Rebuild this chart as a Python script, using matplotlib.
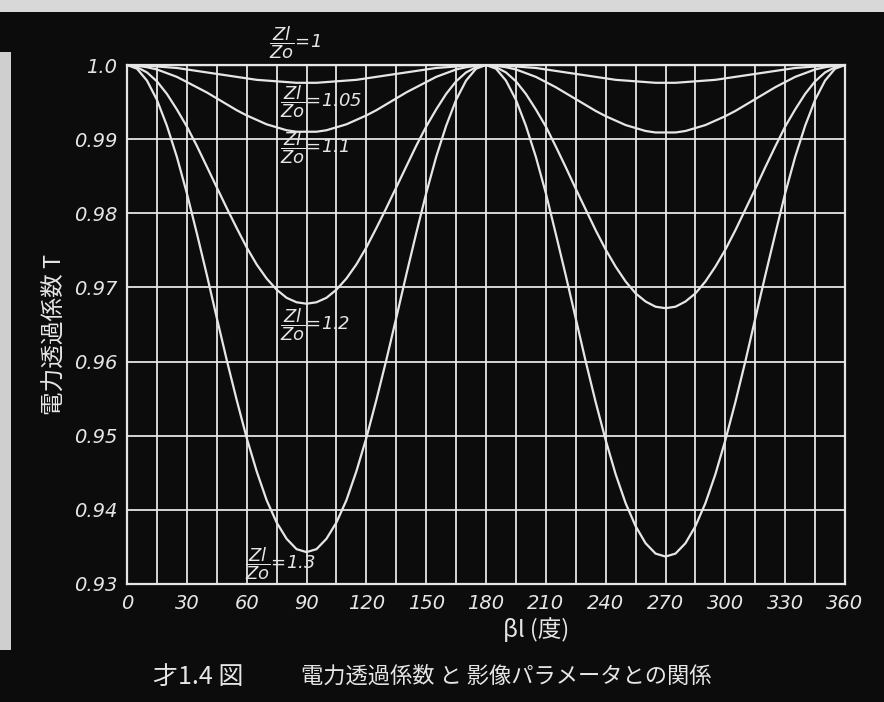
import numpy as np
import matplotlib
matplotlib.use('Agg')
import matplotlib.pyplot as plt
from matplotlib.patches import Rectangle

plt.rcParams['font.family'] = ['DejaVu Sans', 'Noto Sans CJK JP']
plt.rcParams['mathtext.fontset'] = 'dejavusans'

# beta*l in degrees, 5 degree steps
beta = list(range(0, 361, 5))

# power transmission coefficient T for each Zl/Zo
t_105 = [1.0, 1.0, 0.9999, 0.9998, 0.9997, 0.9996, 0.9994, 0.9992, 0.9990, 0.9988,
         0.9986, 0.9984, 0.9982, 0.9980, 0.9979, 0.9978, 0.9977, 0.9976, 0.9976,
         0.9976, 0.9977, 0.9978, 0.9979, 0.9980, 0.9982, 0.9984, 0.9986, 0.9988,
         0.9990, 0.9992, 0.9994, 0.9996, 0.9997, 0.9998, 0.9999, 1.0, 1.0,
         1.0, 0.9999, 0.9998, 0.9997, 0.9996, 0.9994, 0.9992, 0.9990, 0.9988,
         0.9986, 0.9984, 0.9982, 0.9980, 0.9979, 0.9978, 0.9977, 0.9976, 0.9976,
         0.9976, 0.9977, 0.9978, 0.9979, 0.9980, 0.9982, 0.9984, 0.9986, 0.9988,
         0.9990, 0.9992, 0.9994, 0.9996, 0.9997, 0.9998, 0.9999, 1.0, 1.0]
t_11 = [1.0, 0.9999, 0.9997, 0.9994, 0.9989, 0.9984, 0.9977, 0.9970, 0.9963, 0.9955,
        0.9947, 0.9939, 0.9932, 0.9926, 0.9920, 0.9916, 0.9912, 0.9910, 0.9910,
        0.9910, 0.9912, 0.9916, 0.9920, 0.9926, 0.9932, 0.9939, 0.9947, 0.9955,
        0.9963, 0.9970, 0.9977, 0.9984, 0.9989, 0.9994, 0.9997, 0.9999, 1.0,
        0.9999, 0.9997, 0.9994, 0.9989, 0.9984, 0.9977, 0.9970, 0.9962, 0.9954,
        0.9946, 0.9938, 0.9931, 0.9925, 0.9919, 0.9915, 0.9911, 0.9909, 0.9909,
        0.9909, 0.9911, 0.9915, 0.9919, 0.9925, 0.9931, 0.9938, 0.9946, 0.9954,
        0.9962, 0.9970, 0.9977, 0.9984, 0.9989, 0.9994, 0.9997, 0.9999, 1.0]
t_12 = [1.0, 0.9997, 0.9990, 0.9978, 0.9961, 0.9940, 0.9917, 0.9891, 0.9863, 0.9835,
        0.9807, 0.9780, 0.9754, 0.9731, 0.9712, 0.9697, 0.9686, 0.9680, 0.9678,
        0.9680, 0.9686, 0.9697, 0.9712, 0.9731, 0.9754, 0.9780, 0.9807, 0.9835,
        0.9863, 0.9891, 0.9917, 0.9940, 0.9961, 0.9978, 0.9990, 0.9997, 1.0,
        0.9997, 0.9990, 0.9978, 0.9961, 0.9940, 0.9917, 0.9890, 0.9862, 0.9833,
        0.9805, 0.9777, 0.9751, 0.9728, 0.9708, 0.9692, 0.9681, 0.9674, 0.9672,
        0.9674, 0.9681, 0.9692, 0.9708, 0.9728, 0.9751, 0.9777, 0.9805, 0.9833,
        0.9862, 0.9890, 0.9917, 0.9940, 0.9961, 0.9978, 0.9990, 0.9997, 1.0]
t_13 = [1.0, 0.9995, 0.9979, 0.9953, 0.9918, 0.9876, 0.9827, 0.9773, 0.9717, 0.9659,
        0.9602, 0.9548, 0.9497, 0.9452, 0.9413, 0.9383, 0.9361, 0.9347, 0.9343,
        0.9347, 0.9361, 0.9383, 0.9413, 0.9452, 0.9497, 0.9548, 0.9602, 0.9659,
        0.9717, 0.9773, 0.9827, 0.9876, 0.9918, 0.9953, 0.9979, 0.9995, 1.0,
        0.9995, 0.9979, 0.9953, 0.9918, 0.9876, 0.9827, 0.9772, 0.9716, 0.9658,
        0.9600, 0.9545, 0.9494, 0.9448, 0.9409, 0.9378, 0.9355, 0.9341, 0.9337,
        0.9341, 0.9355, 0.9378, 0.9409, 0.9448, 0.9494, 0.9545, 0.9600, 0.9658,
        0.9716, 0.9772, 0.9827, 0.9876, 0.9918, 0.9953, 0.9979, 0.9995, 1.0]
t_10 = [1.0] * len(beta)

curve_labels = ['1', '1.05', '1.1', '1.2', '1.3']
label_x = [71, 76.5, 76.5, 76.5, 59]
label_y = [1.0030, 0.9951, 0.9889, 0.9650, 0.9327]

xticks = list(range(0, 361, 30))
yticks = [0.93, 0.94, 0.95, 0.96, 0.97, 0.98, 0.99, 1.0]
ytick_labels = ['0.93', '0.94', '0.95', '0.96', '0.97', '0.98', '0.99', '1.0']

fg = '#e6e6e6'
bg = '#0c0c0c'
jp = ['Noto Sans CJK JP', 'DejaVu Sans']

fig = plt.figure(figsize=(8.84, 7.02), dpi=100, facecolor=bg)
ax = fig.add_axes([0.1437, 0.1681, 0.8122, 0.7393])
ax.set_facecolor(bg)

# paper edge showing round the board
fig.patches.append(Rectangle((0, 0.983), 1, 0.017, transform=fig.transFigure,
                             facecolor='#d8d8d8', edgecolor='none'))
fig.patches.append(Rectangle((0, 0.074), 0.013, 0.852, transform=fig.transFigure,
                             facecolor='#cfcfcf', edgecolor='none'))

# grid: every 15 degrees and every 0.01
for gx in range(0, 361, 15):
    ax.axvline(gx, color=fg, lw=1.3, zorder=1)
for gy in yticks:
    ax.axhline(gy, color=fg, lw=1.3, zorder=1)

for t in [t_10, t_105, t_11, t_12, t_13]:
    ax.plot(beta, t, color=fg, lw=1.6, solid_joinstyle='round', zorder=2)

for lab, lx, ly in zip(curve_labels, label_x, label_y):
    ax.text(lx, ly, r'$\dfrac{Zl}{Zo}$' + '=' + lab, color=fg, fontsize=13,
            style='italic', ha='left', va='center', clip_on=False, zorder=3)

ax.set_xlim(0, 360)
ax.set_ylim(0.93, 1.0)
ax.set_xticks(xticks)
ax.set_xticklabels([str(v) for v in xticks], fontsize=14, style='italic', color=fg)
ax.set_yticks(yticks)
ax.set_yticklabels(ytick_labels, fontsize=14, style='italic', color=fg)
ax.tick_params(length=0, pad=7)
for s in ax.spines.values():
    s.set_color(fg)
    s.set_linewidth(1.6)

fig.text(0.063, 0.523, '電力透過係数 T', rotation=90, color=fg, fontsize=17,
         family=jp, ha='center', va='center')
fig.text(0.607, 0.103, 'βl (度)', color=fg, fontsize=17, family=jp,
         ha='center', va='center', style='italic')
fig.text(0.173, 0.036, '才1.4 図', color=fg, fontsize=18, family=jp,
         ha='left', va='center')
fig.text(0.34, 0.036, '電力透過係数 と 影像パラメータとの関係',
         color=fg, fontsize=16, family=jp, ha='left', va='center')

fig.savefig('out.png', dpi=100, facecolor=bg)
